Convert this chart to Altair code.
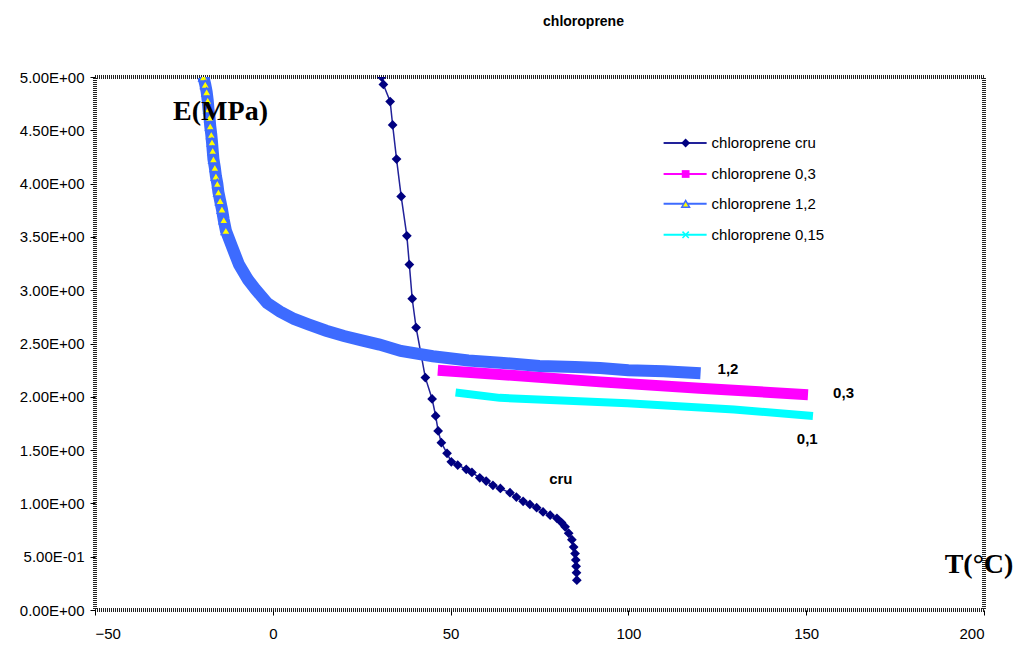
import altair as alt
import pandas as pd

# ---------------- data ----------------
cru_x = [30.6, 31.1, 33.0, 33.7, 34.8, 36.1, 37.7, 38.4, 39.2, 40.3, 42.9, 44.8, 45.8, 46.5, 47.4,
         49.0, 50.2, 52.0, 54.4, 56.0, 58.2, 60.0, 61.9, 64.0, 66.7, 68.5, 70.4, 72.3, 74.2, 76.0,
         78.0, 79.9, 81.2, 82.2, 83.2, 84.1, 84.6, 85.0, 85.2, 85.3, 85.4, 85.5]
cru_y = [5.00, 4.93, 4.77, 4.55, 4.23, 3.88, 3.51, 3.24, 2.92, 2.65, 2.18, 1.98, 1.82, 1.68, 1.57,
         1.47, 1.39, 1.36, 1.32, 1.29, 1.24, 1.21, 1.17, 1.14, 1.10, 1.06, 1.02, 0.99, 0.96, 0.92,
         0.89, 0.86, 0.82, 0.78, 0.72, 0.66, 0.59, 0.53, 0.47, 0.41, 0.35, 0.28]

s12_x = [-19.5, -19.0, -18.6, -18.3, -18.1, -17.8, -17.6, -17.3, -17.1, -16.9, -16.7, -16.3, -16.0,
         -15.6, -15.3, -14.8, -14.3, -13.8, -13.2, -11.5, -9.5, -7.0,
         -4.9, -1.6, 2.0, 6.0, 10.0, 15.0, 20.0, 25.0, 30.0, 36.0, 45.0, 55.0, 64.0, 75.0, 85.0,
         92.0, 100.0, 110.0, 120.3]
s12_y = [5.00, 4.93, 4.86, 4.78, 4.70, 4.62, 4.54, 4.46, 4.39, 4.31, 4.23, 4.15, 4.07,
         4.00, 3.92, 3.84, 3.76, 3.66, 3.56, 3.41, 3.24, 3.10, 3.01, 2.88,
         2.80, 2.73, 2.68, 2.62, 2.57, 2.53, 2.49, 2.43, 2.38, 2.34, 2.32, 2.29, 2.28, 2.27, 2.25,
         2.24, 2.22]

s03_x = [46.4, 63.8, 92.0, 120.0, 150.5]
s03_y = [2.25, 2.21, 2.14, 2.08, 2.02]

s015_x = [51.4, 63.8, 99.7, 129.7, 151.9]
s015_y = [2.04, 1.99, 1.94, 1.88, 1.82]

legend_names = ["chloroprene cru", "chloroprene 0,3", "chloroprene 1,2", "chloroprene 0,15"]
end_labels = ["1,2", "0,3", "0,1", "cru"]
end_label_x = [128.0, 160.5, 150.3, 81.0]
end_label_y = [2.26, 2.04, 1.60, 1.23]

# ---------------- layout constants (legend placement in data units) ----------------
leg_x1, leg_x2, leg_xm, leg_xt = 109.9, 122.0, 116.1, 123.4
leg_y = [4.38, 4.09, 3.81, 3.52]

NAVY = "#000080"
NAVY_LINE = "#22229a"
MAG = "#FF00FF"
BLUE = "#3D6BFF"
YEL = "#FFFF00"
CYAN = "#00FFFF"

xs = alt.Scale(domain=[-50, 200], nice=False, zero=False)
ys = alt.Scale(domain=[0, 5], nice=False, zero=False)

X = alt.X("x:Q", scale=xs, axis=alt.Axis(values=[-50, 0, 50, 100, 150, 200], title=None,
                                         labelPadding=11))
Y = alt.Y("y:Q", scale=ys, axis=alt.Axis(
    values=[0, 0.5, 1, 1.5, 2, 2.5, 3, 3.5, 4, 4.5, 5], title=None, labelPadding=6,
    labelExpr="replace(replace(format(datum.value, '.2e'), 'e+', 'E+0'), 'e-', 'E-0')"))

cru = pd.DataFrame({"x": cru_x, "y": cru_y})
s12 = pd.DataFrame({"x": s12_x, "y": s12_y})
s03 = pd.DataFrame({"x": s03_x, "y": s03_y})
s015 = pd.DataFrame({"x": s015_x, "y": s015_y})

cru_line = alt.Chart(cru).mark_line(color=NAVY_LINE, strokeWidth=1.5, clip=True).encode(x=X, y=Y)
cru_pts = alt.Chart(cru).mark_point(shape="diamond", filled=True, color=NAVY, size=95,
                                    opacity=1, clip=True).encode(x=X, y=Y)

l03 = alt.Chart(s03).mark_line(color=MAG, strokeWidth=11, clip=True).encode(x=X, y=Y)
l12 = alt.Chart(s12).mark_line(color=BLUE, strokeWidth=12, clip=True).encode(x=X, y=Y)
p12 = alt.Chart(s12).transform_filter("datum.y > 3.5").mark_point(
    shape="triangle-up", fill=YEL, stroke=BLUE, strokeWidth=1.5, size=85, opacity=1,
    fillOpacity=1, clip=True).encode(x=X, y=Y)
l015 = alt.Chart(s015).mark_line(color=CYAN, strokeWidth=8, clip=True).encode(x=X, y=Y)

lab = pd.DataFrame({"t": end_labels, "x": end_label_x, "y": end_label_y})
labels = alt.Chart(lab).mark_text(font="Liberation Sans", fontWeight="bold", fontSize=15,
                                  color="black").encode(x=X, y=Y, text="t:N")

ann = pd.DataFrame({"t": ["E(MPa)", "T(°C)"], "x": [-14.7, 198.6], "y": [4.67, 0.42]})
annot = alt.Chart(ann).mark_text(font="Liberation Serif", fontWeight="bold", fontSize=28,
                                 color="black").encode(x=X, y=Y, text="t:N")

# manual legend
leg = pd.DataFrame({"name": legend_names, "y": leg_y,
                    "x1": [leg_x1] * 4, "x2": [leg_x2] * 4, "xm": [leg_xm] * 4, "xt": [leg_xt] * 4,
                    "k": ["cru", "03", "12", "015"]})
line_col = alt.Color("k:N", scale=alt.Scale(domain=["cru", "03", "12", "015"],
                                            range=[NAVY_LINE, MAG, BLUE, CYAN]), legend=None)
leg_lines = alt.Chart(leg).mark_rule(strokeWidth=2).encode(
    x=alt.X("x1:Q", scale=xs), x2="x2:Q", y=alt.Y("y:Q", scale=ys), color=line_col)
leg_m_cru = alt.Chart(leg).transform_filter("datum.k == 'cru'").mark_point(
    shape="diamond", filled=True, color=NAVY, size=80, opacity=1).encode(
    x=alt.X("xm:Q", scale=xs), y=alt.Y("y:Q", scale=ys))
leg_m_03 = alt.Chart(leg).transform_filter("datum.k == '03'").mark_point(
    shape="square", filled=True, color=MAG, size=60, opacity=1).encode(
    x=alt.X("xm:Q", scale=xs), y=alt.Y("y:Q", scale=ys))
leg_m_12 = alt.Chart(leg).transform_filter("datum.k == '12'").mark_point(
    shape="triangle-up", fill=YEL, stroke=BLUE, strokeWidth=1.5, size=60, opacity=1,
    fillOpacity=1).encode(x=alt.X("xm:Q", scale=xs), y=alt.Y("y:Q", scale=ys))
leg_m_015 = alt.Chart(leg).transform_filter("datum.k == '015'").mark_point(
    shape="M-1,-1L1,1M-1,1L1,-1", filled=False, color=CYAN, size=40, strokeWidth=1.5,
    opacity=1).encode(x=alt.X("xm:Q", scale=xs), y=alt.Y("y:Q", scale=ys))
leg_text = alt.Chart(leg).mark_text(align="left", baseline="middle", font="Liberation Sans",
                                    fontSize=15, color="black").encode(
    x=alt.X("xt:Q", scale=xs), y=alt.Y("y:Q", scale=ys), text="name:N")

chart = alt.layer(
    cru_line, cru_pts, l03, l12, p12, l015, labels, annot,
    leg_lines, leg_m_cru, leg_m_03, leg_m_12, leg_m_015, leg_text
).properties(
    width=889, height=533,
    background="white",
    title=alt.TitleParams("chloroprene", anchor="middle", dx=44, offset=27, baseline="bottom",
                          font="Liberation Sans", fontSize=14, fontWeight="bold", color="black"),
    autosize=alt.AutoSizeParams(type="none"),
    padding={"left": 87, "top": 69, "right": 30, "bottom": 30},
).configure_view(
    stroke="#222222", strokeWidth=4, strokeDash=[1, 1]
).configure_axis(
    grid=False, domain=False, ticks=True, tickColor="black", tickSize=5,
    labelFont="Liberation Sans", labelFontSize=15, labelColor="black"
)

chart.save("out.html", embed_options={"renderer": "svg", "actions": False})
